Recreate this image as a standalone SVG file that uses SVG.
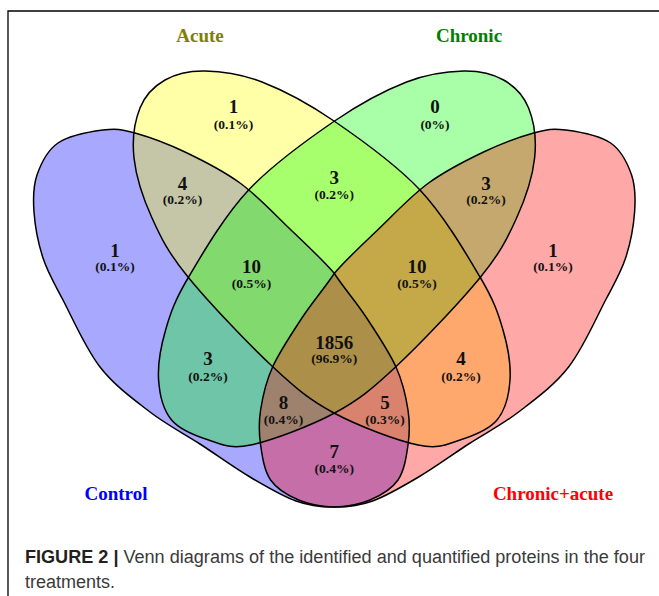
<svg xmlns="http://www.w3.org/2000/svg" xmlns:xlink="http://www.w3.org/1999/xlink" width="659" height="596" viewBox="0 0 659 596">
<style>
.bg{fill:#ffffff}
.frame{fill:none;stroke:#000;stroke-width:1.3}
.f{stroke:none;fill-opacity:0.34}
.fc{fill:#0000ff}.fa{fill:#ffff00}.fh{fill:#00ff00}.fr{fill:#ff0000}
.ol{fill:none;stroke:#000;stroke-width:1.5}
.cat{font-family:"Liberation Serif","Times New Roman",serif;font-weight:bold;font-size:19px;text-anchor:middle}
.n{font-family:"Liberation Serif","Times New Roman",serif;font-weight:bold;font-size:19px;text-anchor:middle;fill:#111}
.p{font-family:"Liberation Serif","Times New Roman",serif;font-weight:bold;font-size:13.5px;text-anchor:middle;fill:#111}
.cap{font-family:"Liberation Sans",Arial,sans-serif;font-size:18px;fill:#3a3a3a}
.capb{font-weight:bold;fill:#231f20}
</style>
<defs>
<path id="shapeA" d="M205,71 C221.17,71.33 240.5,73.670 262,82 C283.5,90.33 307.67,103 334,121 C360.33,139 395.67,164 420,190 C444.33,216 466.17,253.67 480,277 C493.83,300.33 498,312.83 503,330 C508,347.17 511,365 510,380 C509,395 505.33,410 497,420 C488.67,430 473.17,435.83 460,440 C446.83,444.17 439,449.5 418,445 C397,440.5 358.17,426 334,413 C309.83,400 297.33,389.67 273,367 C248.67,344.33 208.17,301.83 188,277 C167.83,252.17 161,237.83 152,218 C143,198.17 136,176.33 134,158 C132,139.67 134.83,121 140,108 C145.17,95 154.17,86.17 165,80 C175.83,73.83 188.83,70.67 205,71 Z"/>
<path id="shapeC" d="M103,130 C115.83,128.33 121.33,129.17 135,133 C148.67,136.830 167.5,143.67 185,152 C202.5,160.33 222.5,170.33 240,183 C257.5,195.67 274.33,214 290,229 C305.67,244 321.33,258.33 334,273 C344.33,288.67 355.67,301.33 366,317 C376.33,332.67 389,351.5 396,367 C403,382.5 406,397 408,410 C410,423 409.67,433.33 408,445 C406.33,456.67 404.33,470.83 398,480 C391.67,489.17 380.67,495.5 370,500 C359.33,504.5 346.33,506.83 334,507 C321.67,507.17 310,506 296,501 C282,496 266,486.5 250,477 C234,467.5 216.67,454.83 200,444 C183.33,433.17 166.67,424.83 150,412 C133.33,399.17 114.5,385.67 100,367 C85.5,348.33 72.5,318.17 63,300 C53.5,281.83 47.83,272.67 43,258 C38.17,243.33 35,225.83 34,212 C33,198.17 33,186.5 37,175 C41,163.5 47,150.5 58,143 C69,135.5 90.17,131.67 103,130 Z"/>
</defs>
<rect class="bg" x="0" y="0" width="659" height="596"/>
<path class="frame" d="M8,596 V11 H659"/>

<g id="set-control">
<use xlink:href="#shapeC" href="#shapeC" class="f fc"/>
<text class="cat" x="116" y="500" fill="#0000ff">Control</text>
</g>
<g id="set-acute">
<use xlink:href="#shapeA" href="#shapeA" class="f fa"/>
<text class="cat" x="200" y="42" fill="#808000">Acute</text>
</g>
<g id="set-chronic">
<use xlink:href="#shapeA" href="#shapeA" class="f fh" transform="matrix(-1 0 0 1 668.6 0)"/>
<text class="cat" x="469" y="42" fill="#008000">Chronic</text>
</g>
<g id="set-chronic-acute">
<use xlink:href="#shapeC" href="#shapeC" class="f fr" transform="matrix(-1 0 0 1 668.6 0)"/>
<text class="cat" x="553" y="500" fill="#ff0000">Chronic+acute</text>
</g>

<g id="outlines">
<use xlink:href="#shapeC" href="#shapeC" class="ol"/>
<use xlink:href="#shapeA" href="#shapeA" class="ol"/>
<use xlink:href="#shapeA" href="#shapeA" class="ol" transform="matrix(-1 0 0 1 668.6 0)"/>
<use xlink:href="#shapeC" href="#shapeC" class="ol" transform="matrix(-1 0 0 1 668.6 0)"/>
</g>

<g id="counts">
<text class="n" x="115" y="256.5">1</text><text class="p" x="115" y="271">(0.1%)</text>
<text class="n" x="233.5" y="113">1</text><text class="p" x="233.5" y="128.5">(0.1%)</text>
<text class="n" x="435" y="113">0</text><text class="p" x="435" y="128.5">(0%)</text>
<text class="n" x="553" y="256.5">1</text><text class="p" x="553" y="271">(0.1%)</text>
<text class="n" x="182.5" y="189.5">4</text><text class="p" x="182.5" y="204">(0.2%)</text>
<text class="n" x="334.3" y="184">3</text><text class="p" x="334.3" y="198.5">(0.2%)</text>
<text class="n" x="486" y="189.5">3</text><text class="p" x="486" y="204">(0.2%)</text>
<text class="n" x="251.5" y="273">10</text><text class="p" x="251.5" y="288">(0.5%)</text>
<text class="n" x="417" y="273">10</text><text class="p" x="417" y="288">(0.5%)</text>
<text class="n" x="334.3" y="348.8">1856</text><text class="p" x="334.3" y="363">(96.9%)</text>
<text class="n" x="208" y="364.5">3</text><text class="p" x="208" y="380.5">(0.2%)</text>
<text class="n" x="461" y="364.5">4</text><text class="p" x="461" y="380.5">(0.2%)</text>
<text class="n" x="283.5" y="408.8">8</text><text class="p" x="283.5" y="423.8">(0.4%)</text>
<text class="n" x="385" y="408.8">5</text><text class="p" x="385" y="423.8">(0.3%)</text>
<text class="n" x="334.3" y="457.8">7</text><text class="p" x="334.3" y="472.5">(0.4%)</text>
</g>

<g id="caption">
<text class="cap" x="25" y="563" textLength="620" lengthAdjust="spacingAndGlyphs"><tspan class="capb">FIGURE 2 |</tspan> Venn diagrams of the identified and quantified proteins in the four</text>
<text class="cap" x="25" y="588">treatments.</text>
</g>
</svg>
